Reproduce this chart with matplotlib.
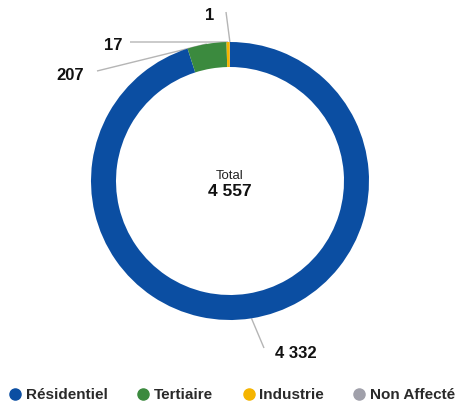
import numpy as np
import matplotlib
matplotlib.use("Agg")
import matplotlib.pyplot as plt
from matplotlib.lines import Line2D

plt.rcParams['font.family'] = ['Liberation Sans', 'DejaVu Sans']

categories = ["Résidentiel", "Tertiaire", "Industrie", "Non Affecté"]
values = [4332, 207, 17, 1]
labels = ["4 332", "207", "17", "1"]
colors = ["#0b4ea2", "#3b8a3e", "#f5b400", "#a0a0aa"]
total_label = "4 557"

W, H = 459, 403
fig = plt.figure(figsize=(W / 100, H / 100), dpi=100)
ax = fig.add_axes([0, 0, 1, 1])

cx, cy, R = 230, H - 181, 139
ring = 25
wedges, _ = ax.pie(values, colors=colors, startangle=90, counterclock=False,
                   radius=R, center=(cx, cy),
                   wedgeprops=dict(width=ring, edgecolor='none'))
ax.set_xlim(0, W)
ax.set_ylim(0, H)
ax.set_aspect('equal')
ax.axis('off')

# label positions (pixel coords, y from top) and leader line end points
text_pos = [(296, 353), (70, 75), (113, 45), (210, 15)]
line_end = [(264, 348), (97, 71), (130, 42), (226, 12)]
for w, lab, tp, le in zip(wedges, labels, text_pos, line_end):
    mid = np.deg2rad((w.theta1 + w.theta2) / 2)
    sx = cx + R * np.cos(mid)
    sy = cy + R * np.sin(mid)
    ax.plot([sx, le[0]], [sy, H - le[1]], color="#b5b5b5", lw=1, zorder=0,
            solid_capstyle='butt')
    ax.text(tp[0], H - tp[1], lab, ha='center', va='center',
            fontsize=12, fontweight='bold', color='#111111')

ax.text(cx, H - 176, "Total", ha='center', va='center', fontsize=9.5, color='#222222')
ax.text(cx, H - 192, total_label, ha='center', va='center', fontsize=12.5,
        fontweight='bold', color='#111111')

handles = [Line2D([], [], marker='o', linestyle='none', markersize=8,
                  markerfacecolor=c, markeredgecolor=c) for c in colors]
leg = fig.legend(handles, categories, loc='center', bbox_to_anchor=((W / 2 + 2) / W, 1 - 395 / H),
                 ncol=4, frameon=False, handletextpad=0.2, columnspacing=1.82,
                 handlelength=1.0, borderaxespad=0,
                 prop=dict(size=11, weight='bold'))
for t in leg.get_texts():
    t.set_color('#2a2a2a')

fig.savefig("out.png", dpi=100)
